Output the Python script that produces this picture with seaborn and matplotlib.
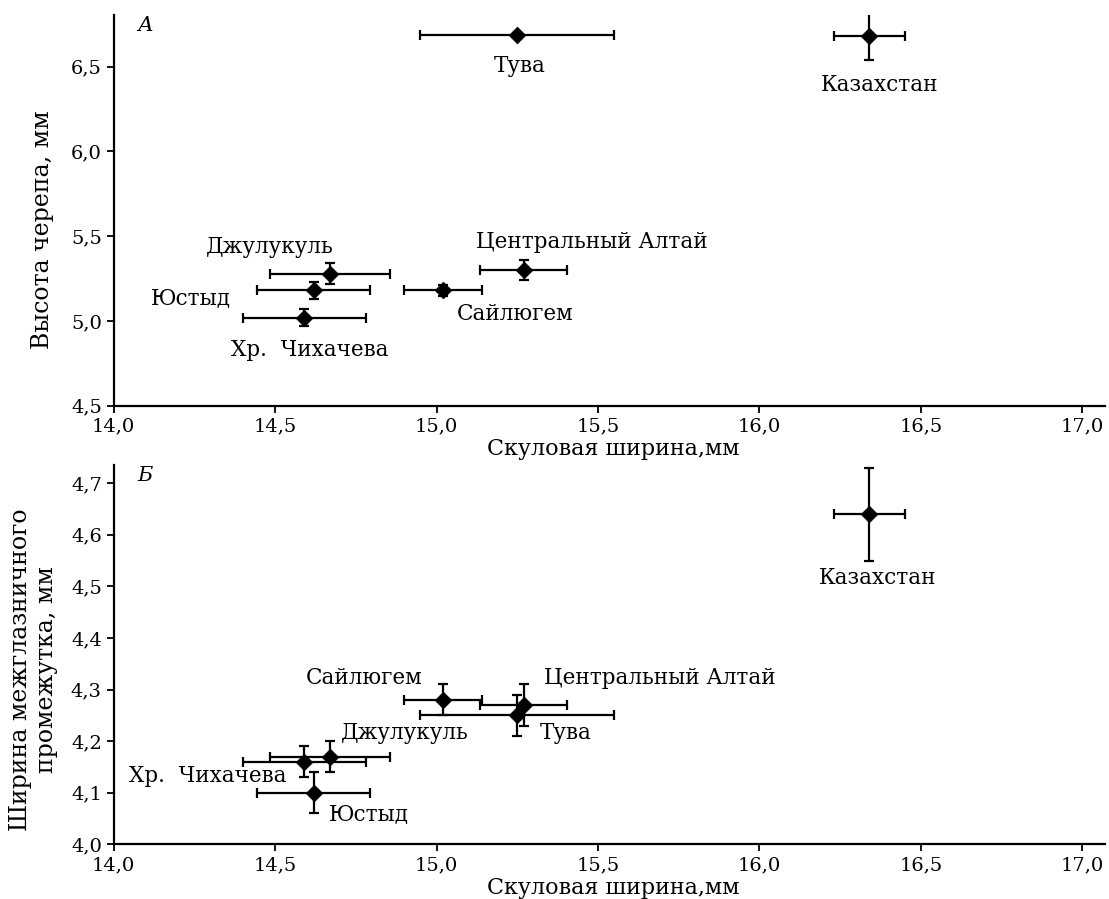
import numpy as np
import pandas as pd
import seaborn as sns
import matplotlib.pyplot as plt
from matplotlib.ticker import FuncFormatter, MultipleLocator

# values
regions = ['Тува', 'Казахстан', 'Джулукуль', 'Юстыд', 'Хр.  Чихачева', 'Сайлюгем', 'Центральный Алтай']
zyg_width = [15.25, 16.34, 14.67, 14.62, 14.59, 15.02, 15.27]
zyg_width_err = [0.30, 0.11, 0.185, 0.175, 0.19, 0.12, 0.135]
skull_height = [6.69, 6.68, 5.28, 5.18, 5.02, 5.18, 5.30]
skull_height_err = [0.0, 0.14, 0.06, 0.05, 0.05, 0.035, 0.06]
interorb_width = [4.25, 4.64, 4.17, 4.10, 4.16, 4.28, 4.27]
interorb_width_err = [0.04, 0.09, 0.03, 0.04, 0.03, 0.03, 0.04]

# label offsets from the point, in pixels
top_offsets = {'Тува': (2, -31), 'Казахстан': (10, -49), 'Джулукуль': (-60, 27),
               'Юстыд': (-123, -8), 'Хр.  Чихачева': (6, -32), 'Сайлюгем': (72, -24),
               'Центральный Алтай': (68, 28)}
bottom_offsets = {'Тува': (48, -18), 'Казахстан': (8, -64), 'Джулукуль': (75, 24),
                  'Юстыд': (55, -21), 'Хр.  Чихачева': (-96, -14), 'Сайлюгем': (-79, 22),
                  'Центральный Алтай': (136, 27)}

df = pd.DataFrame({'region': regions, 'x': zyg_width, 'xerr': zyg_width_err,
                   'height': skull_height, 'height_err': skull_height_err,
                   'interorb': interorb_width, 'interorb_err': interorb_width_err})

sns.set_style('ticks', {'text.color': 'black', 'axes.labelcolor': 'black',
                        'xtick.color': 'black', 'ytick.color': 'black',
                        'axes.edgecolor': 'black'})
plt.rcParams['font.family'] = ['DejaVu Serif']

fig = plt.figure(figsize=(11.09, 8.99), dpi=100)
ax_top = fig.add_axes([0.1025, 0.5487, 0.8939, 0.4346])
ax_bot = fig.add_axes([0.1025, 0.0608, 0.8939, 0.4219])

comma = FuncFormatter(lambda v, p: f"{v:.1f}".replace('.', ','))


def draw_panel(ax, ycol, yerrcol, offsets, letter):
    ax.errorbar(df['x'], df[ycol], xerr=df['xerr'], yerr=df[yerrcol], fmt='none',
                ecolor='black', elinewidth=1.6, capsize=3.5, capthick=1.6, zorder=2)
    sns.scatterplot(data=df, x='x', y=ycol, marker='D', s=70, color='black',
                    edgecolor='black', ax=ax, zorder=3, legend=False)
    for _, r in df.iterrows():
        ax.annotate(r['region'], (r['x'], r[ycol]), xytext=offsets[r['region']],
                    textcoords='offset pixels', ha='center', va='center',
                    fontsize=15.5, color='black')
    ax.text(0.032, 0.972, letter, transform=ax.transAxes, fontsize=15,
            style='italic', ha='center', va='center', color='black')
    ax.set_xlim(14.0, 17.07)
    ax.xaxis.set_major_locator(MultipleLocator(0.5))
    ax.xaxis.set_major_formatter(comma)
    ax.yaxis.set_major_formatter(comma)
    ax.tick_params(direction='out', length=5, width=1.3, labelsize=14,
                   colors='black', labelcolor='black')
    for s in ['left', 'bottom']:
        ax.spines[s].set_linewidth(1.6)
        ax.spines[s].set_color('black')
    sns.despine(ax=ax)
    ax.set_xlabel('Скуловая ширина,мм', fontsize=16, color='black')


draw_panel(ax_top, 'height', 'height_err', top_offsets, 'А')
ax_top.set_ylim(4.5, 6.805)
ax_top.yaxis.set_major_locator(MultipleLocator(0.5))
ax_top.set_ylabel('Высота черепа, мм', fontsize=17, color='black')
ax_top.yaxis.set_label_coords(-0.06, 0.45)
ax_top.xaxis.set_label_coords(0.504, -0.083)

draw_panel(ax_bot, 'interorb', 'interorb_err', bottom_offsets, 'Б')
ax_bot.set_ylim(4.0, 4.735)
ax_bot.yaxis.set_major_locator(MultipleLocator(0.1))
ax_bot.set_ylabel('Ширина межглазничного\nпромежутка, мм', fontsize=17,
                  linespacing=1.15, color='black')
ax_bot.yaxis.set_label_coords(-0.056, 0.46)
ax_bot.xaxis.set_label_coords(0.504, -0.085)

fig.savefig('out.png', dpi=100, facecolor='white')
